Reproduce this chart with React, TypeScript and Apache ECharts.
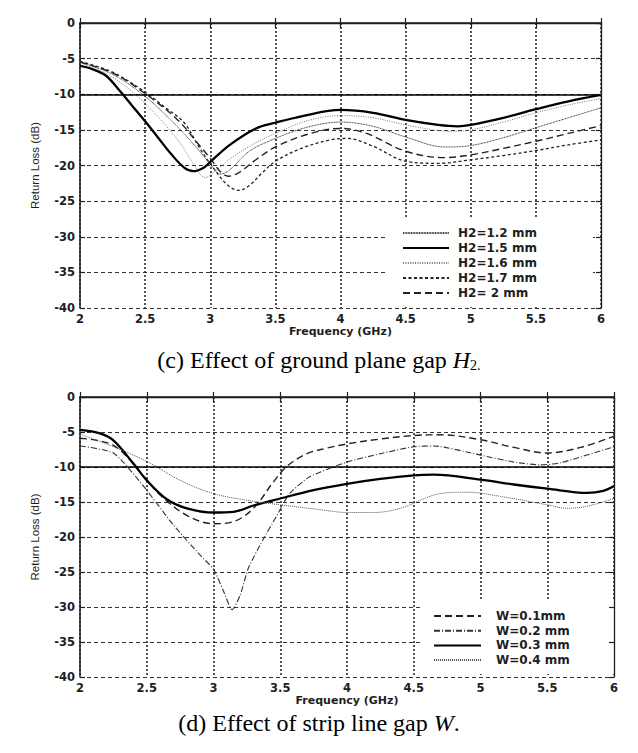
import React, { useEffect, useRef } from "react";
import * as echarts from "echarts";

// Frequency axis (GHz) and return-loss axis (dB) ranges
const FREQ_MIN = 2;
const FREQ_MAX = 6;
const FREQ_STEP = 0.5;
const RL_MIN = -40;
const RL_MAX = 0;
const RL_STEP = 5;
const RL_REFERENCE = -10;

// (c) ground plane gap H2 sweep: [frequency GHz, return loss dB]
const h2Names = ["H2=1.2 mm", "H2=1.5 mm", "H2=1.6 mm", "H2=1.7 mm", "H2= 2 mm"];

const h2_12 = [
  [2, -5.5], [2.25, -7.2], [2.5, -10.3], [2.75, -14.6], [2.9, -17.6], [3.0, -19.8],
  [3.08, -21.2], [3.15, -20.6], [3.3, -18.0], [3.5, -16.2], [3.75, -14.6], [4.0, -13.9],
  [4.25, -14.5], [4.5, -16.0], [4.8, -17.4], [5.0, -17.2], [5.25, -16.1], [5.5, -14.7],
  [5.75, -13.3], [6.0, -11.9],
];
const h2_15 = [
  [2, -6.0], [2.1, -6.5], [2.2, -7.4], [2.3, -9.4], [2.4, -11.6], [2.5, -13.8],
  [2.6, -16.1], [2.7, -18.4], [2.8, -20.3], [2.87, -20.8], [2.95, -20.3], [3.0, -19.5],
  [3.15, -17.1], [3.35, -14.8], [3.5, -14.0], [3.7, -13.1], [4.0, -12.2], [4.25, -12.6],
  [4.5, -13.6], [4.75, -14.3], [4.9, -14.5], [5.0, -14.3], [5.25, -13.3], [5.5, -12.1],
  [5.75, -11.0], [6.0, -10.1],
];
const h2_16 = [
  [2, -5.6], [2.25, -7.6], [2.5, -11.3], [2.75, -16.4], [2.88, -20.0], [2.96, -21.7],
  [3.05, -20.6], [3.15, -19.1], [3.3, -17.3], [3.5, -15.5], [3.75, -13.7], [4.0, -13.0],
  [4.25, -13.3], [4.5, -14.3], [4.85, -15.2], [5.0, -15.0], [5.25, -13.9], [5.5, -12.6],
  [5.75, -11.5], [6.0, -10.6],
];
const h2_17 = [
  [2, -5.4], [2.25, -6.9], [2.5, -9.7], [2.65, -11.8], [2.8, -14.0], [2.92, -17.6],
  [3.01, -20.0], [3.13, -22.7], [3.22, -23.5], [3.3, -22.8], [3.4, -21.0], [3.5, -19.4],
  [3.7, -17.6], [3.92, -16.4], [4.05, -16.2], [4.25, -17.3], [4.5, -19.4], [4.75, -19.7],
  [5.0, -19.2], [5.25, -18.6], [5.5, -17.9], [5.75, -17.1], [6.0, -16.4],
];
const h2_20 = [
  [2, -5.5], [2.25, -7.0], [2.5, -9.9], [2.75, -13.6], [2.9, -16.8], [3.0, -19.0],
  [3.08, -20.9], [3.14, -21.5], [3.22, -21.0], [3.35, -19.2], [3.5, -17.4], [3.75, -15.6],
  [4.0, -14.8], [4.2, -15.5], [4.5, -18.0], [4.8, -18.9], [5.0, -18.5], [5.25, -17.6],
  [5.5, -16.6], [5.75, -15.5], [6.0, -14.4],
];

// (d) strip line gap W sweep: [frequency GHz, return loss dB]
const wNames = ["W=0.1mm", "W=0.2 mm", "W=0.3 mm", "W=0.4 mm"];

const w_01 = [
  [2, -5.9], [2.25, -6.9], [2.45, -10.7], [2.6, -14.0], [2.8, -16.9], [3.0, -18.1],
  [3.15, -17.8], [3.3, -15.9], [3.45, -12.1], [3.55, -9.9], [3.7, -8.1], [3.85, -7.3],
  [4.0, -6.7], [4.25, -6.0], [4.5, -5.5], [4.7, -5.4], [5.0, -6.1], [5.25, -7.2],
  [5.5, -8.0], [5.75, -7.2], [6.0, -5.6],
];
const w_02 = [
  [2, -7.0], [2.25, -8.0], [2.47, -12.6], [2.7, -18.3], [2.9, -22.6], [3.0, -24.6],
  [3.07, -27.5], [3.14, -30.4], [3.2, -28.3], [3.26, -24.5], [3.37, -20.4], [3.47, -17.1],
  [3.57, -13.8], [3.72, -11.4], [4.0, -9.3], [4.25, -8.1], [4.5, -7.1], [4.65, -7.0],
  [5.0, -8.3], [5.25, -9.3], [5.45, -9.7], [5.6, -9.4], [6.0, -7.1],
];
const w_03 = [
  [2, -4.7], [2.15, -5.2], [2.25, -6.2], [2.4, -9.5], [2.5, -11.9], [2.65, -14.6],
  [2.8, -15.9], [3.0, -16.5], [3.15, -16.4], [3.3, -15.5], [3.5, -14.5], [3.75, -13.3],
  [4.0, -12.4], [4.25, -11.7], [4.5, -11.2], [4.65, -11.1], [5.0, -11.8], [5.25, -12.5],
  [5.5, -13.1], [5.8, -13.7], [5.92, -13.4], [6.0, -12.7],
];
const w_04 = [
  [2, -5.3], [2.25, -7.1], [2.5, -9.2], [2.75, -11.9], [3.0, -13.8], [3.3, -14.9],
  [3.5, -15.4], [3.8, -16.1], [4.0, -16.5], [4.2, -16.5], [4.4, -15.9], [4.7, -13.8],
  [4.9, -13.6], [5.15, -14.2], [5.5, -15.4], [5.65, -15.9], [5.8, -15.6], [6.0, -14.5],
];

const INK = "#1e1e1e";
const SANS = "DejaVu Sans";
const SERIF = "Liberation Serif";

const tickLabel = { fontFamily: SANS, fontWeight: "bold" as const, fontSize: 11.5, color: INK };

function xAxes(grid: number) {
  const base = { type: "value", gridIndex: grid, min: FREQ_MIN, max: FREQ_MAX, interval: FREQ_STEP };
  return [
    {
      ...base,
      position: "bottom",
      z: 10,
      axisLine: { show: true, lineStyle: { color: INK, width: 1.5 } },
      axisTick: { show: true, inside: true, length: 5, lineStyle: { color: INK, width: 1.2 } },
      axisLabel: { ...tickLabel, margin: 5 },
      splitLine: { show: false },
      name: "Frequency (GHz)",
      nameLocation: "middle",
      nameGap: 18,
      nameTextStyle: { fontFamily: SANS, fontWeight: "bold", fontSize: 11, color: INK },
    },
    {
      ...base,
      position: "top",
      z: 0,
      axisLine: { show: true, lineStyle: { color: INK, width: 1.3 } },
      axisTick: { show: true, inside: true, length: 5, lineStyle: { color: INK, width: 1.2 } },
      axisLabel: { show: false },
      splitLine: { show: true, lineStyle: { color: "#2a2a2a", width: 1.6, type: [2, 2] } },
    },
  ];
}

function yAxes(grid: number) {
  const base = { type: "value", gridIndex: grid, min: RL_MIN, max: RL_MAX, interval: RL_STEP };
  return [
    {
      ...base,
      position: "left",
      z: 0,
      axisLine: { show: true, lineStyle: { color: INK, width: 1.5 } },
      axisTick: { show: true, inside: true, length: 5, lineStyle: { color: INK, width: 1.2 } },
      axisLabel: { ...tickLabel, margin: 5 },
      splitLine: { show: true, lineStyle: { color: "#333", width: 1.2, type: [4, 3] } },
      name: "Return Loss (dB)",
      nameLocation: "middle",
      nameGap: 39,
      nameTextStyle: { fontFamily: "Liberation Sans", fontSize: 11.5, color: INK },
    },
    {
      ...base,
      position: "right",
      z: 10,
      axisLine: { show: true, lineStyle: { color: INK, width: 1.3 } },
      axisTick: { show: true, inside: true, length: 5, lineStyle: { color: INK, width: 1.2 } },
      axisLabel: { show: false },
      splitLine: { show: false },
    },
  ];
}

function curve(name: string, data: number[][], axis: number, lineStyle: object, extra: object = {}) {
  return {
    type: "line",
    name,
    data,
    xAxisIndex: axis,
    yAxisIndex: axis,
    smooth: 0.35,
    symbol: "none",
    lineStyle,
    itemStyle: { color: (lineStyle as any).color },
    ...extra,
  };
}

function refLine() {
  return {
    markLine: {
      silent: true,
      symbol: "none",
      label: { show: false },
      lineStyle: { color: "#000", width: 1.6, type: "solid" },
      data: [{ yAxis: RL_REFERENCE }],
    },
  };
}

const legendText = {
  fontFamily: SANS,
  fontWeight: "bold" as const,
  fontSize: 12,
  color: INK,
  lineHeight: 12,
};

// legend keys show only the line sample, no marker
const legendKey = { itemStyle: { opacity: 0, borderWidth: 0 } };

export default function App() {
  const ref = useRef<HTMLDivElement>(null);

  useEffect(() => {
    if (!ref.current) return;
    const chart = echarts.init(ref.current, undefined, { renderer: "svg" });

    const option = {
      animation: false,
      backgroundColor: "#fff",
      textStyle: { fontFamily: SANS },
      grid: [
        { left: 80, top: 23, width: 521, height: 285 },
        { left: 80, top: 397, width: 534, height: 280 },
      ],
      xAxis: [...xAxes(0), ...xAxes(1)],
      yAxis: [...yAxes(0), ...yAxes(1)],
      legend: [
        {
          data: h2Names,
          orient: "vertical",
          left: 388,
          top: 217,
          padding: [10, 56, 8, 14],
          backgroundColor: "#fff",
          z: 5,
          itemWidth: 46,
          itemHeight: 10,
          itemGap: 3,
          selectedMode: false,
          ...legendKey,
          textStyle: { ...legendText, padding: [0, 0, 0, 4] },
        },
        {
          data: wNames,
          orient: "vertical",
          left: 422,
          top: 600,
          padding: [10, 46, 8, 11],
          backgroundColor: "#fff",
          z: 5,
          itemWidth: 47,
          itemHeight: 10,
          itemGap: 2.7,
          selectedMode: false,
          ...legendKey,
          textStyle: { ...legendText, padding: [0, 0, 0, 10] },
        },
      ],
      series: [
        curve(h2Names[0], h2_12, 0, { color: "#3c3c3c", width: 1, type: [1, 0.6] }),
        curve(h2Names[1], h2_15, 0, { color: "#000", width: 2.3, type: "solid" }, refLine()),
        curve(h2Names[2], h2_16, 0, { color: "#777", width: 1, type: [1, 1.4] }),
        curve(h2Names[3], h2_17, 0, { color: "#222", width: 1.3, type: [3, 2.5] }),
        curve(h2Names[4], h2_20, 0, { color: "#222", width: 1.4, type: [7, 4] }),
        curve(wNames[0], w_01, 2, { color: "#222", width: 1.4, type: [7, 4] }, refLine()),
        curve(wNames[1], w_02, 2, { color: "#333", width: 1.1, type: [6, 2, 1, 2] }, { smooth: 0.2 }),
        curve(wNames[2], w_03, 2, { color: "#000", width: 2.3, type: "solid" }),
        curve(wNames[3], w_04, 2, { color: "#555", width: 1, type: [1, 1] }),
      ],
      graphic: [
        {
          type: "text",
          left: "center",
          top: 348,
          style: {
            text: "(c) Effect of ground plane gap {i|H}{s|2.}",
            fontFamily: SERIF,
            fontSize: 24,
            fill: "#000",
            rich: {
              i: { fontFamily: SERIF, fontSize: 24, fontStyle: "italic", fill: "#000" },
              s: { fontFamily: SERIF, fontSize: 14, fill: "#000", padding: [10, 0, 0, 0] },
            },
          },
        },
        {
          type: "text",
          left: "center",
          top: 711,
          style: {
            text: "(d) Effect of strip line gap {i|W}.",
            fontFamily: SERIF,
            fontSize: 24,
            fill: "#000",
            rich: {
              i: { fontFamily: SERIF, fontSize: 24, fontStyle: "italic", fill: "#000" },
            },
          },
        },
      ],
    };

    chart.setOption(option as any);
    return () => chart.dispose();
  }, []);

  return (
    <div
      ref={ref}
      style={{ position: "absolute", left: 0, top: 0, width: 638, height: 753, background: "#fff" }}
    />
  );
}
